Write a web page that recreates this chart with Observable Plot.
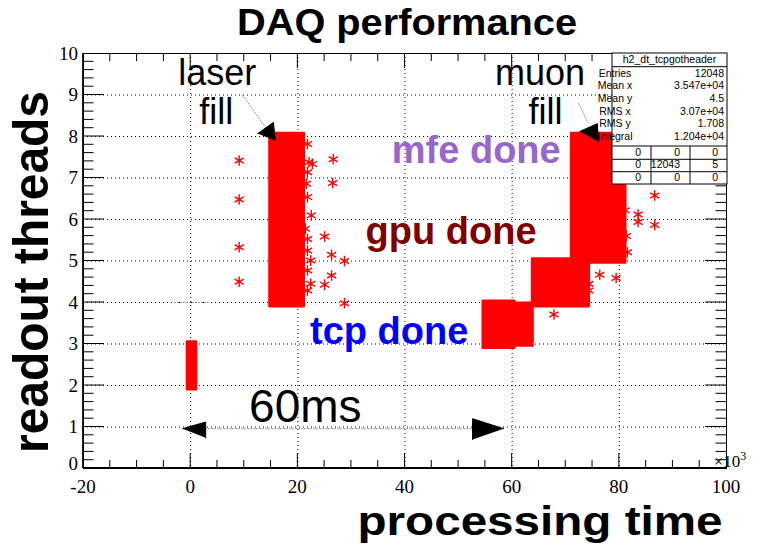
<!DOCTYPE html>
<html><head><meta charset="utf-8">
<script src="https://cdn.jsdelivr.net/npm/d3@7"></script>
<script src="https://cdn.jsdelivr.net/npm/@observablehq/plot@0.6"></script>
<style>
html,body{margin:0;padding:0;background:#fff;}
#chart svg{display:block;}
</style></head><body><div id="chart"></div>
<script>
// ---- data ----
// dense filled regions of the 2D scatter (processing time [x1e3], readout threads)
const blockName = ["start", "laser", "tcp-a", "tcp-b", "gpu", "muon"];
const blockX1 = [-0.6, 14.8, 54.6, 60.7, 63.8, 71.1];
const blockX2 = [1.1, 21.2, 60.5, 63.9, 74.4, 81.2];
const blockY1 = [1.9, 3.9, 2.9, 2.95, 3.9, 4.95];
const blockY2 = [3.05, 8.07, 4.03, 3.98, 5.05, 8.07];

// isolated entries (asterisk markers)
const outX = [9.05, 9.05, 9.05, 9.05,
  21.8, 22.1, 22.7, 21.8, 21.6, 21.8, 22.5, 21.4, 21.8, 21.8, 22.4, 21.8, 22.4, 21.8,
  26.6, 26.5, 25.0, 26.3, 28.7, 26.3, 25.0, 28.7,
  61.9, 62.2, 62.5,
  67.8, 76.35, 79.4, 74.3, 74.3,
  86.6, 83.5, 83.5, 86.6, 81.5, 81.1, 81.3];
const outY = [7.42, 6.48, 5.33, 4.5,
  7.82, 7.38, 7.34, 7.14, 6.86, 6.54, 6.1, 5.78, 5.53, 5.25, 5.01, 4.77, 4.45, 4.29,
  7.45, 6.88, 5.59, 5.15, 5.0, 4.65, 4.43, 3.98,
  3.65, 3.33, 3.08,
  3.71, 4.67, 4.59, 4.45, 4.29,
  6.58, 6.12, 5.94, 5.87, 5.21, 6.22, 5.6];

// annotations
const noteText = ["laser", "fill", "muon", "fill", "60ms"];
const noteX = [4.95, 4.76, 65.2, 66.2, 21.4];
const noteY = [9.23, 8.31, 9.23, 8.31, 1.13];
const noteSize = [36, 36, 36, 36, 46];

const stageText = ["mfe done", "gpu done", "tcp done"];
const stageX = [53.3, 48.6, 37.05];
const stageY = [7.35, 5.42, 3.01];
const stageColor = ["#9966cc", "#800000", "#0000ff"];

// arrows: dotted shafts and filled heads
const shaftId = ["laser", "laser", "muon", "muon", "span", "span", "stub", "stub"];
const shaftX = [9.7, 13.96, 72.4, 74.1, 2.8, 52.6, -3.0, 3.3];
const shaftY = [8.99, 8.22, 8.8, 8.34, 0.96, 0.96, 4.0, 4.0];
const headId = ["laser", "laser", "laser", "muon", "muon", "muon", "left", "left", "left", "right", "right", "right"];
const headX = [12.5, 15.45, 15.8, 72.6, 75.9, 76.1, -1.5, 2.8, 2.8, 58.4, 52.6, 52.6];
const headY = [8.07, 8.34, 7.9, 8.12, 8.31, 7.88, 0.96, 1.12, 0.74, 0.96, 1.2, 0.7];

// axis ticks
const xTickLabels = [-20, 0, 20, 40, 60, 80, 100];
const yTickLabels = [0, 1, 2, 3, 4, 5, 6, 7, 8, 9, 10];
const xGrid = [0, 20, 40, 60, 80];
const yGrid = [1, 2, 3, 4, 5, 6, 7, 8, 9];

// statistics box
const statLabels = ["Entries", "Mean x", "Mean y", "RMS x", "RMS y", "Integral"];
const statValues = ["12048", "3.547e+04", "4.5", "3.07e+04", "1.708", "1.204e+04"];
const statGrid = [["0", "0", "0"], ["0", "12043", "5"], ["0", "0", "0"]];

// ---- tables ----
const blocks = blockName.map((n, i) => ({n, x1: blockX1[i], x2: blockX2[i], y1: blockY1[i], y2: blockY2[i]}));
const outliers = outX.map((x, i) => ({x, y: outY[i]}));
const notes = noteText.map((t, i) => ({t, x: noteX[i], y: noteY[i], s: noteSize[i]}));
const stages = stageText.map((t, i) => ({t, x: stageX[i], y: stageY[i], c: stageColor[i]}));
const shafts = shaftId.map((id, i) => ({id, x: shaftX[i], y: shaftY[i]}));
const heads = headId.map((id, i) => ({id, x: headX[i], y: headY[i]}));

const plot = Plot.plot({
  width: 769, height: 544,
  marginLeft: 83, marginRight: 43, marginTop: 53, marginBottom: 76,
  style: {background: "white", overflow: "visible"},
  x: {domain: [-20, 100], axis: null},
  y: {domain: [0, 10], axis: null},
  color: {type: "identity"},
  marks: [
    Plot.ruleX(xGrid, {stroke: "black", strokeDasharray: "1,3", strokeWidth: 1}),
    Plot.ruleY(yGrid, {stroke: "black", strokeDasharray: "1,3", strokeWidth: 1}),
    Plot.rect(blocks, {x1: "x1", x2: "x2", y1: "y1", y2: "y2", fill: "#ff0000", stroke: "#ff0000", strokeWidth: 2.5, strokeLinejoin: "round"}),
    Plot.dot(outliers, {x: "x", y: "y", symbol: "asterisk", r: 5, stroke: "#ff0000", strokeWidth: 1.4}),
    Plot.line(shafts, {x: "x", y: "y", z: "id", stroke: "#888", strokeWidth: 1, strokeDasharray: "1,2"}),
    Plot.line(heads, {x: "x", y: "y", z: "id", fill: "black", stroke: "black", strokeWidth: 1}),
    Plot.text(notes, {x: "x", y: "y", text: "t", fontSize: "s", lineAnchor: "bottom", textAnchor: "middle", fill: "black", fontFamily: "Liberation Sans"}),
    Plot.text(stages, {x: "x", y: "y", text: "t", fill: "c", fontSize: 38, fontWeight: "bold", lineAnchor: "bottom", textAnchor: "middle", fontFamily: "Liberation Sans"}),
    Plot.frame({stroke: "black", strokeWidth: 1})
  ]
});
document.getElementById("chart").appendChild(plot);

// ---- axes drawn with the plot's own scales ----
const xs = plot.scale("x"), ys = plot.scale("y");
const X = v => xs.apply(v), Y = v => ys.apply(v);
const svg = d3.select(plot);
const px0 = X(-20), px1 = X(100), py0 = Y(0), py1 = Y(10);
const ax = svg.append("g").attr("stroke", "black").attr("stroke-width", 1);
d3.range(-15, 100, 5).forEach(v => {
  const len = v % 20 === 0 ? 15 : 8;
  ax.append("line").attr("x1", X(v)).attr("x2", X(v)).attr("y1", py0).attr("y2", py0 - len);
  ax.append("line").attr("x1", X(v)).attr("x2", X(v)).attr("y1", py1).attr("y2", py1 + len);
});
d3.range(1, 50, 1).forEach(k => {
  const v = k / 5, len = k % 5 === 0 ? 21 : 10.5;
  ax.append("line").attr("x1", px0).attr("x2", px0 + len).attr("y1", Y(v)).attr("y2", Y(v));
  ax.append("line").attr("x1", px1).attr("x2", px1 - len).attr("y1", Y(v)).attr("y2", Y(v));
});
ax.append("line").attr("x1", px0).attr("x2", px0).attr("y1", py0).attr("y2", py1).attr("stroke-width", 1.8);
ax.append("line").attr("x1", px0).attr("x2", px1).attr("y1", py0).attr("y2", py0).attr("stroke-width", 1.8);

const lab = svg.append("g").attr("font-family", "Liberation Serif").attr("font-size", 19).attr("fill", "black");
xTickLabels.forEach(v => lab.append("text").attr("x", X(v)).attr("y", py0 + 25).attr("text-anchor", "middle").text(v));
yTickLabels.forEach(v => lab.append("text").attr("x", px0 - 5).attr("y", Y(v) - (v === 0 ? 5 : 0)).attr("dy", "0.35em").attr("text-anchor", "end").text(v));
const mult = lab.append("text").attr("x", px1 + 4).attr("y", py0 - 1).attr("font-size", 17);
mult.append("tspan").text("\u00d710");
mult.append("tspan").attr("dy", -7).attr("font-size", 12).text("3");

// titles
const tt = svg.append("g").attr("font-family", "Liberation Sans").attr("font-weight", "bold").attr("fill", "black");
tt.append("text").attr("x", 407).attr("y", 35).attr("text-anchor", "middle").attr("font-size", 36)
  .attr("textLength", 340).attr("lengthAdjust", "spacingAndGlyphs").text("DAQ performance");
tt.append("text").attr("x", 540).attr("y", 535).attr("text-anchor", "middle").attr("font-size", 41)
  .attr("textLength", 365).attr("lengthAdjust", "spacingAndGlyphs").text("processing time");
tt.append("text").attr("transform", "translate(48,272) rotate(-90)").attr("text-anchor", "middle").attr("font-size", 50)
  .attr("textLength", 362).attr("lengthAdjust", "spacingAndGlyphs").text("readout threads");

// statistics box
const sb = svg.append("g").attr("font-family", "Liberation Sans").attr("font-size", 10.5).attr("fill", "black");
const bx = 612, by = 53, bw = 115, bh = 131;
sb.append("rect").attr("x", bx).attr("y", by).attr("width", bw).attr("height", bh).attr("fill", "white").attr("stroke", "black");
sb.append("line").attr("x1", bx).attr("x2", bx + bw).attr("y1", 66.7).attr("y2", 66.7).attr("stroke", "black");
sb.append("text").attr("x", bx + bw / 2).attr("y", 63).attr("text-anchor", "middle").text("h2_dt_tcpgotheader");
statLabels.forEach((l, i) => {
  const yy = 76.7 + i * 12.66;
  sb.append("text").attr("x", bx + 3).attr("y", yy).text(l);
  sb.append("text").attr("x", bx + bw - 3).attr("y", yy).attr("text-anchor", "end").text(statValues[i]);
});
[146, 159.3, 171.7].forEach(yy => sb.append("line").attr("x1", bx).attr("x2", bx + bw).attr("y1", yy).attr("y2", yy).attr("stroke", "black"));
[651, 690].forEach(xx => sb.append("line").attr("x1", xx).attr("x2", xx).attr("y1", 146).attr("y2", by + bh).attr("stroke", "black"));
const colRight = [641, 680, 718];
statGrid.forEach((row, r) => row.forEach((v, c) => {
  sb.append("text").attr("x", colRight[c]).attr("y", 155.5 + r * 12.6).attr("text-anchor", "end").text(v);
}));
</script></body></html>
